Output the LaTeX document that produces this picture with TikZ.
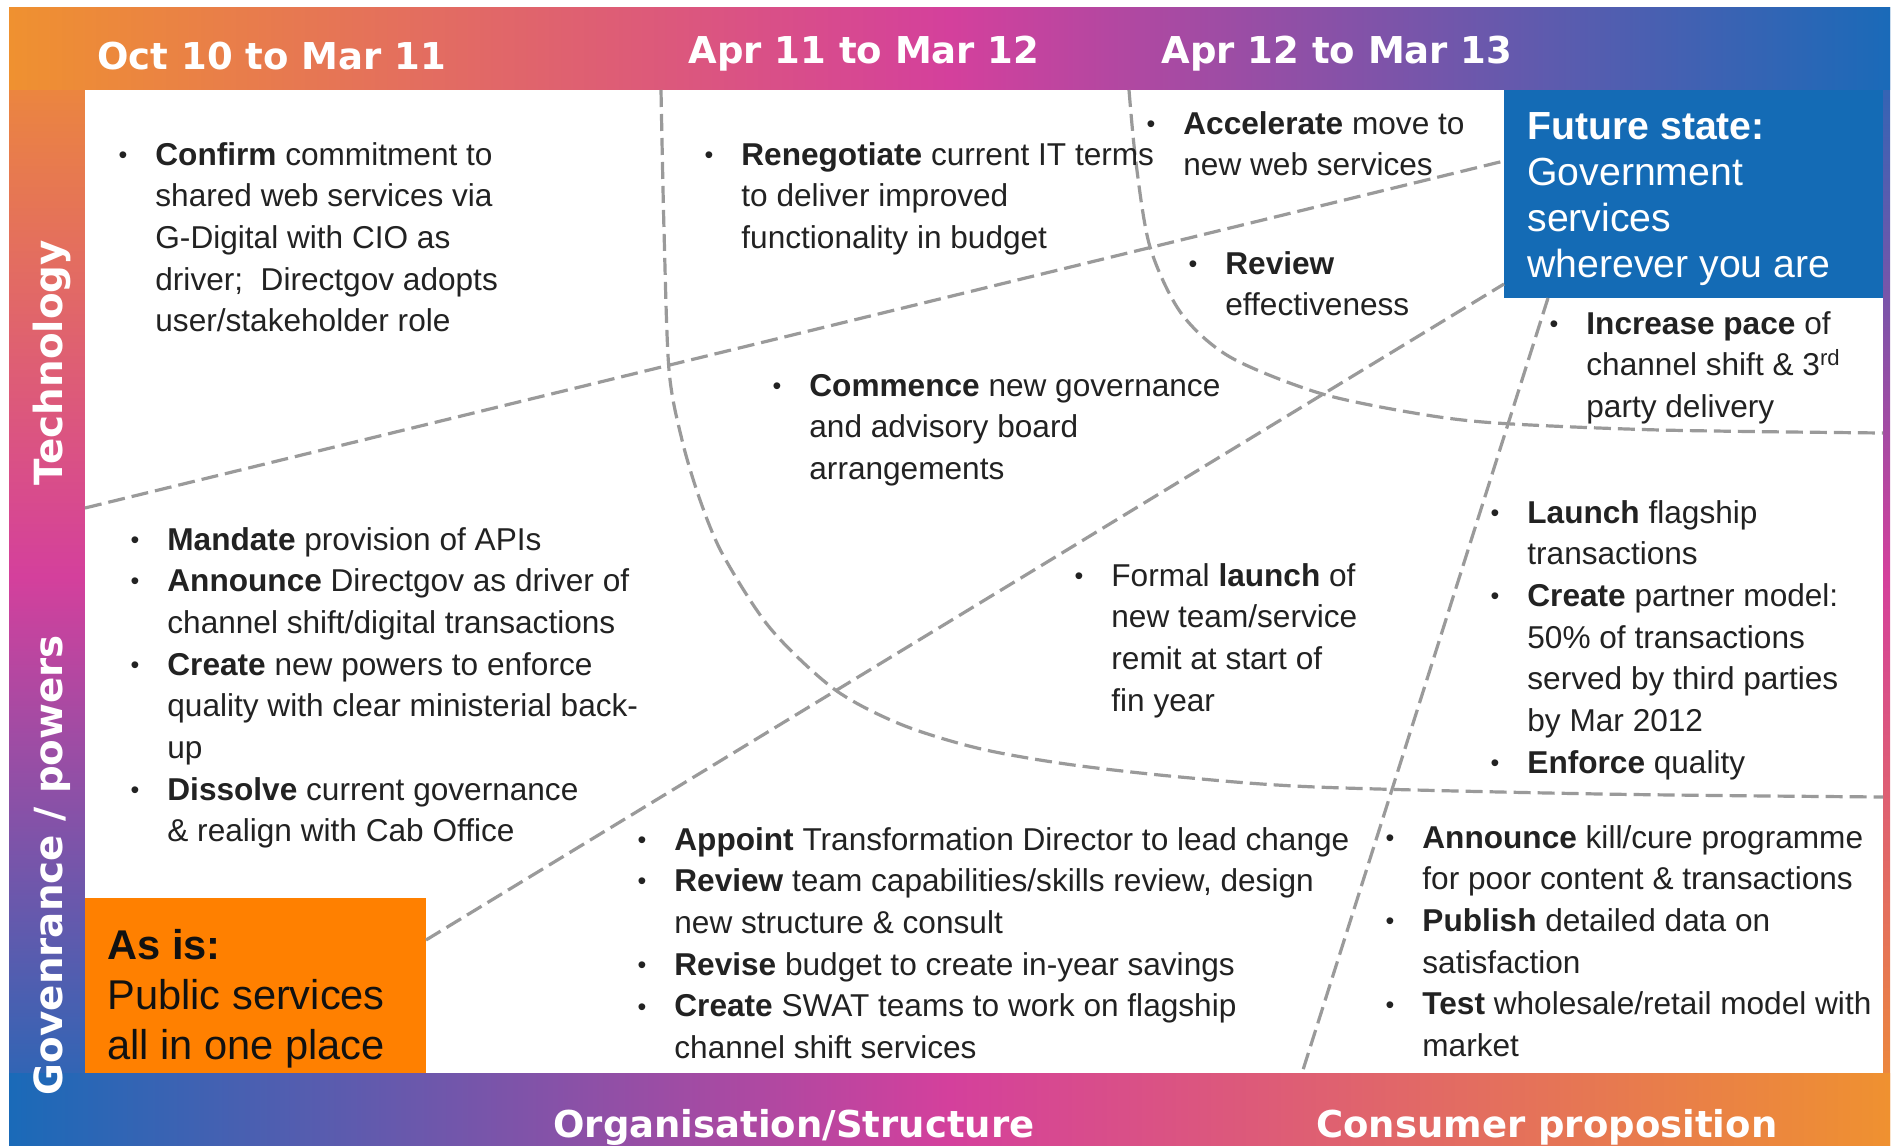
\documentclass[tikz,border=0pt]{standalone}
\usepackage{fontspec}
\setmainfont{Liberation Sans}
\newfontfamily\hdrfont{DejaVu Sans}
\definecolor{cOr}{HTML}{EF9130}
\definecolor{cMg}{HTML}{D4409C}
\definecolor{cBl}{HTML}{1A6AB8}
\definecolor{cLine}{HTML}{9A9A9A}
\definecolor{cTxt}{HTML}{222222}
\definecolor{cFut}{HTML}{146BB5}
\definecolor{cAs}{HTML}{FF8000}
\definecolor{cAsTxt}{HTML}{111111}
\newcommand{\bu}{\llap{\raisebox{0.9pt}{\fontsize{12.5}{12.5}\selectfont\textbullet}\hspace{14pt}}}
\begin{document}
\begin{tikzpicture}[x=0.5pt,y=0.5pt,
  hdr/.style={font=\hdrfont\bfseries\fontsize{18.5}{22}\selectfont, text=white, inner sep=0},
  hdrv/.style={font=\hdrfont\bfseries\fontsize{19.4}{22}\selectfont, text=white, inner sep=0, rotate=90, anchor=base},
  blk/.style={font=\fontsize{15.8}{20.85}\selectfont, text=cTxt, inner sep=0, anchor=base west, align=left},
  dline/.style={draw=cLine, line width=1.6pt, dash pattern=on 8.5pt off 3.5pt},
  bigtxt/.style={inner sep=0, anchor=base west, align=left},
  boxstyle/.style={inner sep=0, outer sep=0, anchor=north west},
]
\useasboundingbox (0,0) rectangle (1893,-1145);
% gradient frame
\shade[top color=cOr, bottom color=cBl, middle color=cMg] (9,-8) rectangle (86,-1145);
\shade[top color=cBl, bottom color=cOr, middle color=cMg] (1878,-8) rectangle (1890,-1145);
\shade[left color=cOr, right color=cBl, middle color=cMg] (9,-8) rectangle (1890,-90);
\shade[left color=cBl, right color=cOr, middle color=cMg] (9,-1073) rectangle (1890,-1145);
\fill[white] (85,-90) rectangle (1883,-1073);
% boxes
\node[boxstyle, fill=cAs, minimum width=170.5pt, minimum height=87.5pt] (asis) at (85,-898) {};
\node[boxstyle, fill=cFut, minimum width=189.5pt, minimum height=104pt] (fut) at (1504,-90) {};
% dashed dividers
\coordinate (cL) at (85,-508);
\coordinate (eB) at (1302,-1073);
\draw[dline] (cL) -- ([yshift=-35.5pt]fut.north west);
\draw[dline] ([yshift=-21pt]asis.north east) -- ([yshift=7pt]fut.south west);
\draw[dline] ([xshift=22pt]fut.south west) -- (eB);
\draw[dline] plot[smooth, tension=0.5] coordinates {(661,-90) (664,-230) (669,-370) (682,-440) (700,-500) (723,-555) (770,-628) (834,-689) (900,-724) (977,-748) (1066,-764) (1180,-777) (1316,-787) (1600,-794) (1883,-797)};
\draw[dline] plot[smooth, tension=0.5] coordinates {(1129,-90) (1136,-163) (1150,-247) (1181,-313) (1230,-357) (1319,-393) (1414,-413) (1496,-423) (1660,-430) (1883,-433)};
% headers
\node[hdr, anchor=base west] (h1) at (97,-69) {Oct 10 to Mar 11};
\node[hdr, anchor=base west] (h2) at (688,-64) {Apr 11 to Mar 12};
\node[hdr, anchor=base west] (h3) at (1161,-64) {Apr 12 to Mar 13};
\node[hdr, anchor=base west] (h4) at (553,-1137) {Organisation/Structure};
\node[hdr, anchor=base west] (h5) at (1316,-1137) {Consumer proposition};
\node[hdrv] (v1) at (62,-363) {Technology};
\node[hdrv] (v2) at (62,-865) {Govenrance / powers};
% box texts
\node[bigtxt, text=white, font=\fontsize{19.6}{23}\selectfont] (futt) at (1527,-140) {\begin{tabular}[t]{@{}l@{}}\textbf{Future state:}\\Government\\services\\wherever you are\end{tabular}};
\node[bigtxt, text=cAsTxt, font=\fontsize{20.8}{25}\selectfont] (asist) at (107,-959) {\begin{tabular}[t]{@{}l@{}}\textbf{As is:}\\Public services\\all in one place\end{tabular}};
% text blocks
\node[blk] (t1) at (155,-165) {\begin{tabular}[t]{@{}l@{}}\bu\textbf{Confirm} commitment to\\shared web services via\\G-Digital with CIO as\\driver;\ \ Directgov adopts\\user/stakeholder role\end{tabular}};
\node[blk] (t2) at (167,-550) {\begin{tabular}[t]{@{}l@{}}\bu\textbf{Mandate} provision of APIs\\\bu\textbf{Announce} Directgov as driver of\\channel shift/digital transactions\\\bu\textbf{Create} new powers to enforce\\quality with clear ministerial back-\\up\\\bu\textbf{Dissolve} current governance\\\& realign with Cab Office\end{tabular}};
\node[blk] (t3) at (741,-165) {\begin{tabular}[t]{@{}l@{}}\bu\textbf{Renegotiate} current IT terms\\to deliver improved\\functionality in budget\end{tabular}};
\node[blk] (t4) at (809,-396) {\begin{tabular}[t]{@{}l@{}}\bu\textbf{Commence} new governance\\and advisory board\\arrangements\end{tabular}};
\node[blk] (t5) at (1183,-134) {\begin{tabular}[t]{@{}l@{}}\bu\textbf{Accelerate} move to\\new web services\end{tabular}};
\node[blk] (t6) at (1225,-274) {\begin{tabular}[t]{@{}l@{}}\bu\textbf{Review}\\effectiveness\end{tabular}};
\node[blk] (t7) at (1111,-586) {\begin{tabular}[t]{@{}l@{}}\bu Formal \textbf{launch} of\\new team/service\\remit at start of\\fin year\end{tabular}};
\node[blk] (t8) at (674,-850) {\begin{tabular}[t]{@{}l@{}}\bu\textbf{Appoint} Transformation Director to lead change\\\bu\textbf{Review} team capabilities/skills review, design\\new structure \& consult\\\bu\textbf{Revise} budget to create in-year savings\\\bu\textbf{Create} SWAT teams to work on flagship\\channel shift services\end{tabular}};
\node[blk] (t9) at (1586,-334) {\begin{tabular}[t]{@{}l@{}}\bu\textbf{Increase pace} of\\channel shift \& 3\textsuperscript{rd}\\party delivery\end{tabular}};
\node[blk] (t10) at (1527,-523) {\begin{tabular}[t]{@{}l@{}}\bu\textbf{Launch} flagship\\transactions\\\bu\textbf{Create} partner model:\\50\% of transactions\\served by third parties\\by Mar 2012\\\bu\textbf{Enforce} quality\end{tabular}};
\node[blk] (t11) at (1422,-848) {\begin{tabular}[t]{@{}l@{}}\bu\textbf{Announce} kill/cure programme\\for poor content \& transactions\\\bu\textbf{Publish} detailed data on\\satisfaction\\\bu\textbf{Test} wholesale/retail model with\\market\end{tabular}};
\end{tikzpicture}
\end{document}
